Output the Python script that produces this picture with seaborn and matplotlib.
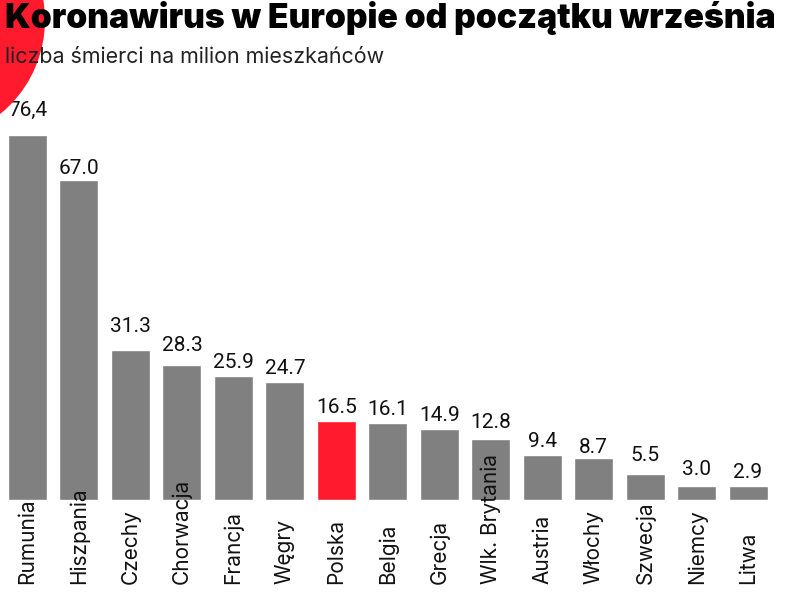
import matplotlib
matplotlib.use("Agg")
import matplotlib.pyplot as plt
import seaborn as sns
import pandas as pd
from matplotlib.patches import Circle

countries = ["Rumunia", "Hiszpania", "Czechy", "Chorwacja", "Francja", "Węgry",
             "Polska", "Belgia", "Grecja", "Wlk. Brytania", "Austria", "Włochy",
             "Szwecja", "Niemcy", "Litwa"]
deaths = [76.4, 67.0, 31.3, 28.3, 25.9, 24.7, 16.5, 16.1, 14.9, 12.8, 9.4, 8.7,
          5.5, 3.0, 2.9]
value_labels = ["76,4", "67.0", "31.3", "28.3", "25.9", "24.7", "16.5", "16.1",
                "14.9", "12.8", "9.4", "8.7", "5.5", "3.0", "2.9"]
highlight = "Polska"

GREY = "#808080"
RED = "#ff1a2e"

sns.set_theme(style="white")
plt.rcParams["font.family"] = ["Inter", "DejaVu Sans"]

df = pd.DataFrame({"kraj": countries, "wartosc": deaths})
palette = {c: (RED if c == highlight else GREY) for c in countries}

fig = plt.figure(figsize=(8, 5.94), dpi=100)

# red circle in the top-left corner
fig.patches.append(Circle((-0.76, 5.74), 1.21, transform=fig.dpi_scale_trans,
                          facecolor=RED, edgecolor="none", zorder=0))

ax = fig.add_axes([0.0022, 0.1582, 0.965, 0.6435])
ax.patch.set_alpha(0)
sns.barplot(data=df, x="kraj", y="wartosc", hue="kraj", palette=palette,
            width=0.757, legend=False, ax=ax, saturation=1)

ax.set_xlim(-0.5, len(countries) - 0.5)
ax.set_ylim(0, 80)
ax.set_xlabel("")
ax.set_ylabel("")
ax.set_yticks([])
ax.set_axisbelow(False)
for s in ax.spines.values():
    s.set_visible(False)

# gap (px) between bar top and its label, as hand-placed in the original
extra_gap = {0: 19, 1: 6, 2: 18, 3: 14, 9: 11, 11: 5, 12: 13, 13: 11}
for i, (v, lab) in enumerate(zip(deaths, value_labels)):
    pad = extra_gap.get(i, 8) * 0.72
    ax.annotate(lab, (i, v), xytext=(0, pad), textcoords="offset points",
                ha="center", va="baseline", fontsize=15, color="#111111",
                family=["Roboto", "DejaVu Sans"])

ax.tick_params(axis="x", length=0, pad=60.5, labelsize=15, labelcolor="#111111")
for t in ax.get_xticklabels():
    t.set_rotation(90)
    t.set_va("bottom")
    t.set_ha("center")

fig.text(5 / 800, 1 - 28 / 594, "Koronawirus w Europie od początku września",
         fontsize=24.3, fontweight="black", color="#000000", va="baseline",
         ha="left", zorder=5)
fig.text(5 / 800, 1 - 63 / 594, "liczba śmierci na milion mieszkańców",
         fontsize=15.4, color="#222222", va="baseline", ha="left", zorder=5)

fig.savefig("out.png", dpi=100)
